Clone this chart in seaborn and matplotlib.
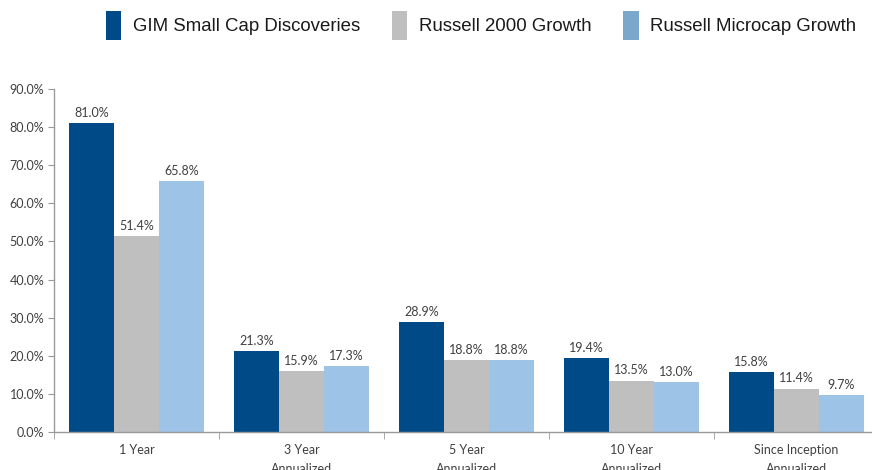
import matplotlib
matplotlib.use("Agg")
import matplotlib.pyplot as plt
import seaborn as sns
import pandas as pd
import numpy as np
from matplotlib.patches import Patch
from matplotlib.ticker import FuncFormatter, FixedLocator

categories = ["1 Year", "3 Year\nAnnualized", "5 Year\nAnnualized", "10 Year\nAnnualized", "Since Inception\nAnnualized"]
series = ["GIM Small Cap Discoveries", "Russell 2000 Growth", "Russell Microcap Growth"]
gim = [81.0, 21.3, 28.9, 19.4, 15.8]
r2000g = [51.4, 15.9, 18.8, 13.5, 11.4]
microg = [65.8, 17.3, 18.8, 13.0, 9.7]
colors = ["#004A87", "#BFBFBF", "#9DC3E6"]
legend_colors = ["#004A87", "#BFBFBF", "#7BA7CC"]

df = pd.DataFrame({
    "Period": categories * 3,
    "Series": [series[0]] * 5 + [series[1]] * 5 + [series[2]] * 5,
    "Value": gim + r2000g + microg,
})

sns.set_style("white")
plt.rcParams["font.family"] = ["Liberation Sans", "DejaVu Sans"]

fig = plt.figure(figsize=(8.72, 4.70), dpi=100)
ax = fig.add_axes([54 / 872, 1 - 432 / 470, 825 / 872, (432 - 89) / 470])

sns.barplot(data=df, x="Period", y="Value", hue="Series", palette=colors,
            width=135 / 165, saturation=1, ax=ax, legend=False, edgecolor="none")

ax.set_ylim(0, 90)
ax.set_xlim(-0.5, 4.5)
ax.yaxis.set_major_locator(FixedLocator(np.arange(0, 91, 10)))
ax.yaxis.set_major_formatter(FuncFormatter(lambda v, p: f"{v:.1f}%"))
ax.set_xlabel("")
ax.set_ylabel("")

for spine in ["top", "right"]:
    ax.spines[spine].set_visible(False)
for spine in ["left", "bottom"]:
    ax.spines[spine].set_color("#9A9A9A")
    ax.spines[spine].set_linewidth(1.0)

ax.tick_params(axis="y", which="major", length=4, color="#9A9A9A", direction="out",
               labelsize=9, labelcolor="#404040", pad=3, left=True)
ax.tick_params(axis="x", which="major", length=0, labelsize=9, labelcolor="#404040", pad=9)
ax.xaxis.set_minor_locator(FixedLocator(np.arange(-0.5, 5, 1.0)))
ax.tick_params(axis="x", which="minor", length=5, color="#9A9A9A", direction="out", bottom=True)
for lbl in ax.get_xticklabels():
    lbl.set_linespacing(1.65)
    lbl.set_verticalalignment("top")

for container in ax.containers:
    ax.bar_label(container, labels=[f"{v:.1f}%" for v in container.datavalues],
                 padding=3, fontsize=9, color="#404040", fontfamily="Lato")

for lbl in ax.get_xticklabels() + ax.get_yticklabels():
    lbl.set_fontfamily("Lato")

handles = [Patch(facecolor=c, edgecolor="none") for c in legend_colors]
fig.legend(handles, series, loc="upper left", bbox_to_anchor=(106 / 872, 1 - 11 / 470),
           ncol=3, frameon=False, fontsize=13.4, handlelength=0.82, handleheight=2.0,
           handletextpad=0.62, columnspacing=1.72, borderaxespad=0, borderpad=0,
           labelcolor="#1A1A1A")

fig.savefig("out.png", dpi=100)
